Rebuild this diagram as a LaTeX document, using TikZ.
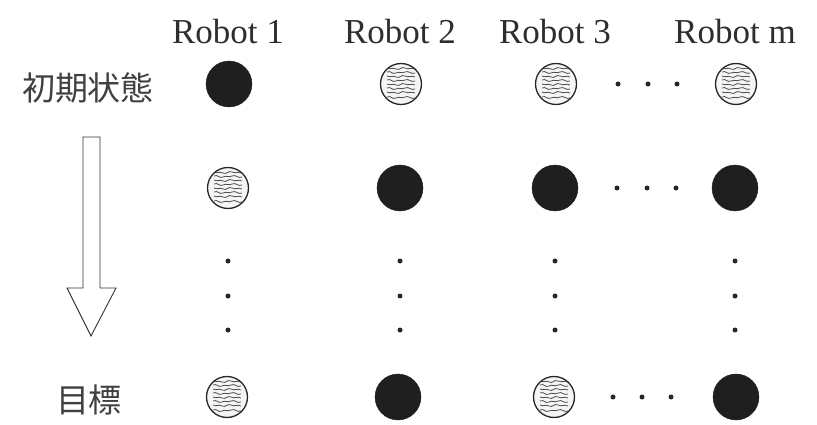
\documentclass[tikz,border=0pt]{standalone}
\usepackage{fontspec}
\setmainfont{Liberation Serif}
\newfontfamily\cjk{Noto Sans CJK JP}
\begin{document}
\begin{tikzpicture}[x=1pt,y=-1pt,
  full/.style={circle,fill=black!88,draw=black!88,minimum size=46pt,inner sep=0pt},
  hatch/.style={circle,draw=black!85,line width=1.3pt,fill=gray!8,minimum size=41pt,inner sep=0pt,
    path picture={
      \foreach \yy/\s in {-13/1,-8/-1,-4/1,0/-1,4/1,8/-1,12/1,16/-1}{
        \draw[black!70,line width=0.8pt] ([xshift=-14pt,yshift=\yy pt]path picture bounding box.center)
          .. controls +(4pt,\s*2pt) and +(-4pt,-\s*2pt) .. ++(9pt,-1pt)
          .. controls +(4pt,\s*2pt) and +(-4pt,-\s*2pt) .. ++(9pt,1pt)
          .. controls +(4pt,\s*2pt) and +(-4pt,-\s*2pt) .. ++(10pt,-1pt);
      }
    }},
  dot/.style={circle,fill=black!85,minimum size=5pt,inner sep=0pt},
  head/.style={font=\fontsize{35}{40}\selectfont,text=black!82},
  jlab/.style={font=\cjk\fontsize{33}{38}\selectfont,text=black!75}]
\useasboundingbox (0,0) rectangle (817,425);
% headers
\node[head] (h1) at (228,32) {Robot 1};
\node[head] (h2) at (400,32) {Robot 2};
\node[head] (h3) at (555,32) {Robot 3};
\node[head] (hm) at (735,32) {Robot m};
% left labels
\node[jlab] (init) at (88,88) {初期状態};
\node[jlab] (goal) at (89,400) {目標};
% arrow
\draw[black!80,line width=0.9pt] (83,137) -- (100,137) -- (100,288) -- (116,288) -- (91,336)
  -- (67,288) -- (83,288) -- cycle;
% row 1
\node[full] (a1) at (229,84) {};
\node[hatch] (a2) at (401,84) {};
\node[hatch] (a3) at (556,84) {};
\node[hatch] (am) at (736,84) {};
\node[dot] (ad1) at (618,84) {};
\node[dot] (ad2) at (648,84) {};
\node[dot] (ad3) at (677,84) {};
% row 2
\node[hatch] (b1) at (228,188) {};
\node[full] (b2) at (400,188) {};
\node[full] (b3) at (555,188) {};
\node[full] (bm) at (735,188) {};
\node[dot] (bd1) at (617,188) {};
\node[dot] (bd2) at (647,188) {};
\node[dot] (bd3) at (676,188) {};
% vertical dots
\foreach \x/\n in {228/1,400/2,555/3,735/m}{
  \node[dot] (v\n a) at (\x,261) {};
  \node[dot] (v\n b) at (\x,296) {};
  \node[dot] (v\n c) at (\x,330) {};
}
% row 4
\node[hatch] (c1) at (227,397) {};
\node[full] (c2) at (398,397) {};
\node[hatch] (c3) at (554,397) {};
\node[full] (cm) at (736,397) {};
\node[dot] (cd1) at (613,397) {};
\node[dot] (cd2) at (642,397) {};
\node[dot] (cd3) at (671,397) {};
\end{tikzpicture}
\end{document}
